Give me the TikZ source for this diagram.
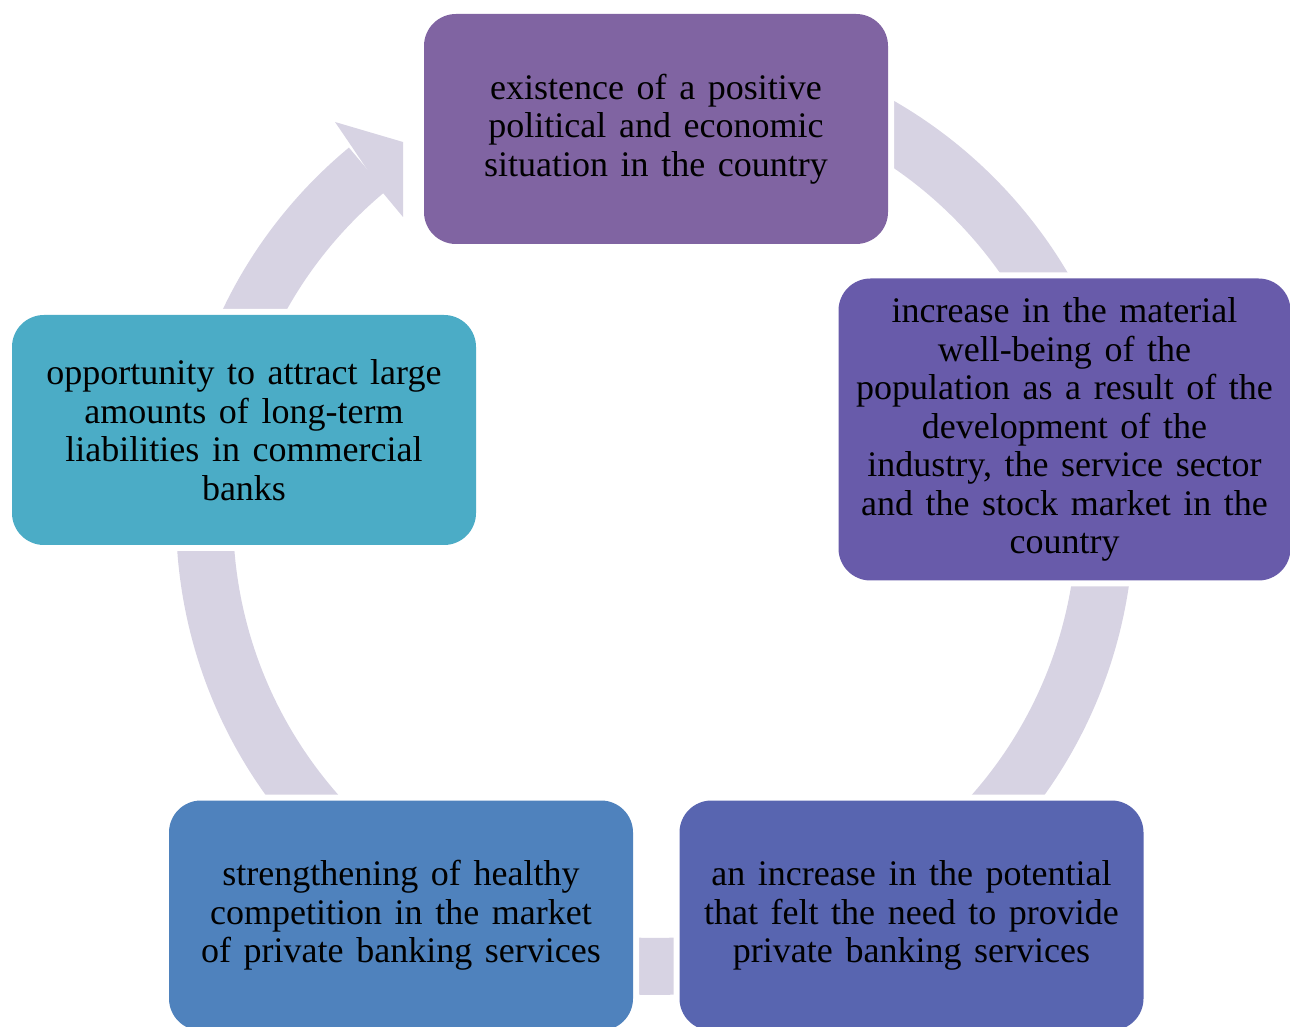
\documentclass[tikz,border=0pt]{standalone}
\usepackage{fontspec}
\setmainfont{Liberation Serif}[WordSpace=1.4]
\definecolor{bandgray}{HTML}{D7D3E3}
\definecolor{stageA}{HTML}{8064A2}
\definecolor{stageB}{HTML}{685BAA}
\definecolor{stageC}{HTML}{5865B0}
\definecolor{stageD}{HTML}{4F82BD}
\definecolor{stageE}{HTML}{4BACC6}
\tikzset{
  stage/.style={rounded corners=32pt, preaction={draw=white, line width=12pt},
    minimum width=464pt, minimum height=230pt, inner sep=0pt, align=center,
    text=black, font=\fontsize{36}{38.5}\selectfont},
  band/.style={draw=bandgray, line width=57pt}
}
\begin{document}
\begin{tikzpicture}[x=1pt,y=1pt]
  \useasboundingbox (0,0) rectangle (1290,1026);
  \clip (0,0) rectangle (1290,1026);

  \coordinate (hub) at (655,510);
  \draw[band] (hub) ++(129.7:450.5) arc[start angle=129.7, end angle=440, radius=450.5];
  \fill[bandgray] (352,879) -- (335,904) -- (403,884) -- (403,809) -- (383,833) -- cycle;

  \node[stage, fill=stageA] (top) at (656,897)
    {existence of a positive\\political and economic\\situation in the country};
  \node[stage, fill=stageB, minimum width=452pt, minimum height=302pt] (right) at (1064.5,596.5)
    {increase in the material\\well-being of the\\population as a result of the\\development of the\\industry, the service sector\\and the stock market in the\\country};
  \node[stage, fill=stageC] (lowright) at (911.5,110.5)
    {an increase in the potential\\that felt the need to provide\\private banking services};
  \node[stage, fill=stageD] (lowleft) at (401,110.5)
    {strengthening of healthy\\competition in the market\\of private banking services};
  \node[stage, fill=stageE] (left) at (244,596)
    {opportunity to attract large\\amounts of long-term\\liabilities in commercial\\banks};
\end{tikzpicture}
\end{document}
